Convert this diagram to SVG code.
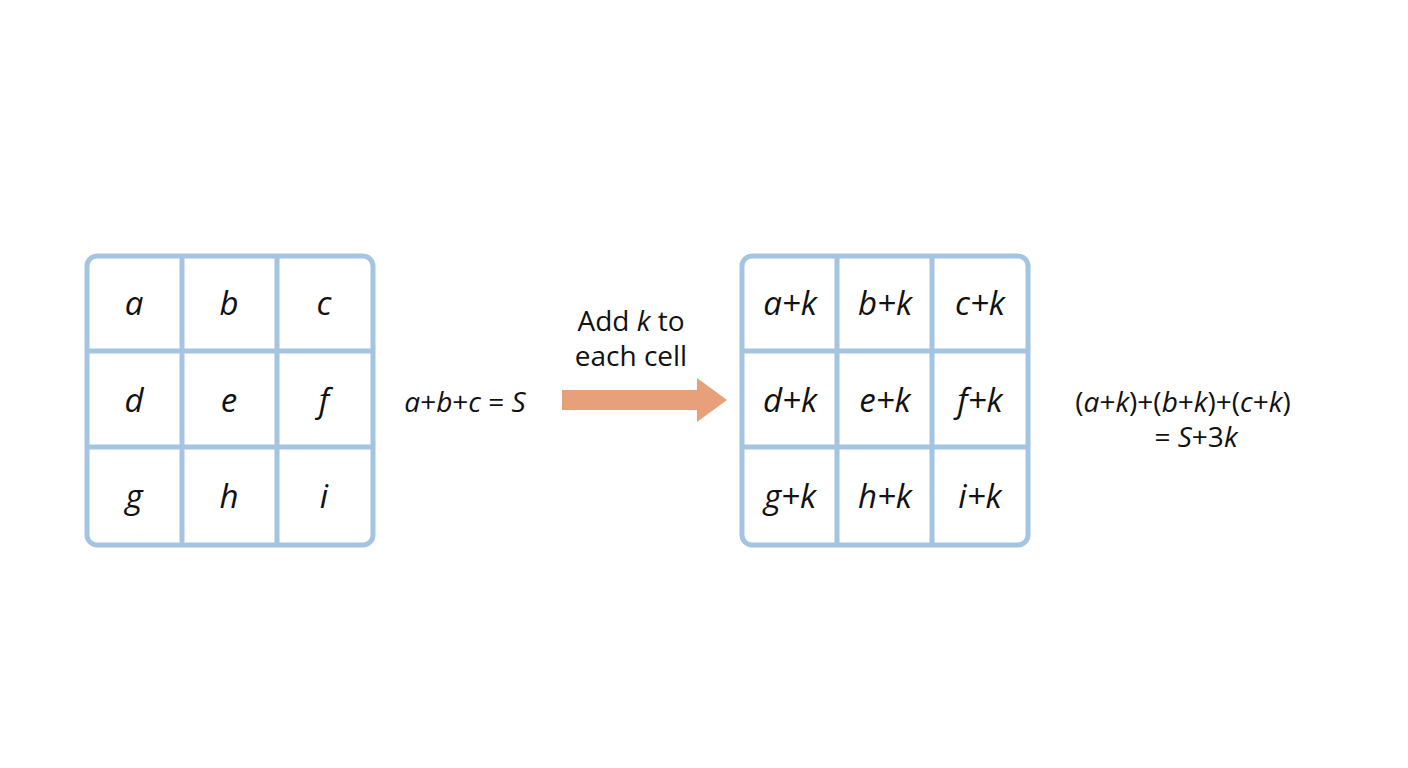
<svg xmlns="http://www.w3.org/2000/svg" width="1408" height="768" viewBox="0 0 1408 768">
<style>
.g{fill:none;stroke:#a5c4e1;stroke-width:5}
.t{font-family:"Open Sans",sans-serif;font-size:33px;fill:#111;text-anchor:middle;font-style:italic}
.l{font-family:"Open Sans",sans-serif;font-size:28px;fill:#111}
.i{font-style:italic}
</style>
<rect width="1408" height="768" fill="#fff"/>
<g id="grid1">
<rect class="g" x="87" y="256" width="286" height="289" rx="10"/>
<path class="g" d="M182 256V545M277 256V545M87 351H373M87 447H373"/>
<text class="t" x="134" y="315">a</text><text class="t" x="229" y="315">b</text><text class="t" x="324" y="315">c</text>
<text class="t" x="134" y="412">d</text><text class="t" x="229" y="412">e</text><text class="t" x="324" y="412">f</text>
<text class="t" x="134" y="508">g</text><text class="t" x="229" y="508">h</text><text class="t" x="324" y="508">i</text>
</g>
<g id="sum1"><text class="l" x="465" y="412" text-anchor="middle"><tspan class="i">a</tspan>+<tspan class="i">b</tspan>+<tspan class="i">c</tspan> = <tspan class="i">S</tspan></text></g>
<g id="connectors">
<polygon points="562,390 697,390 697,378 727,400 697,422 697,410 562,410" fill="#e8a07b"/>
<text class="l" x="631" y="331" text-anchor="middle">Add <tspan class="i">k</tspan> to</text>
<text class="l" x="631" y="366" text-anchor="middle">each cell</text>
</g>
<g id="grid2">
<rect class="g" x="742" y="256" width="286" height="289" rx="10"/>
<path class="g" d="M837 256V545M932 256V545M742 351H1028M742 447H1028"/>
<text class="t" x="790" y="315">a+k</text><text class="t" x="885" y="315">b+k</text><text class="t" x="980" y="315">c+k</text>
<text class="t" x="790" y="412">d+k</text><text class="t" x="885" y="412">e+k</text><text class="t" x="980" y="412">f+k</text>
<text class="t" x="790" y="508">g+k</text><text class="t" x="885" y="508">h+k</text><text class="t" x="980" y="508">i+k</text>
</g>
<g id="sum2">
<text class="l" x="1183" y="412" text-anchor="middle">(<tspan class="i">a</tspan>+<tspan class="i">k</tspan>)+(<tspan class="i">b</tspan>+<tspan class="i">k</tspan>)+(<tspan class="i">c</tspan>+<tspan class="i">k</tspan>)</text>
<text class="l" x="1196" y="447" text-anchor="middle">= <tspan class="i">S</tspan>+3<tspan class="i">k</tspan></text>
</g>
</svg>
